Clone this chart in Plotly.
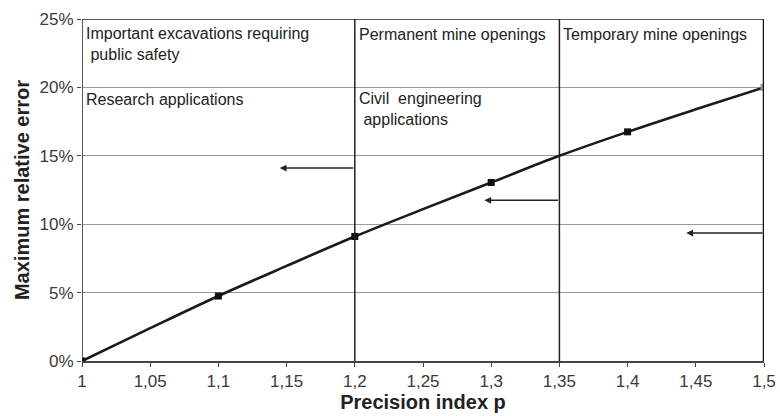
import plotly.graph_objects as go

# Curve data (precision index p vs max relative error %)
p_curve = [1.0, 1.05, 1.1, 1.15, 1.2, 1.25, 1.3, 1.35, 1.4, 1.45, 1.5]
err_curve = [0.0, 2.4, 4.75, 6.95, 9.1, 11.1, 13.05, 15.0, 16.75, 18.4, 20.0]

p_marks = [1.0, 1.1, 1.2, 1.3, 1.4]
err_marks = [0.0, 4.75, 9.1, 13.05, 16.75]
p_end = [1.5]
err_end = [20.0]

x_ticks = [1, 1.05, 1.1, 1.15, 1.2, 1.25, 1.3, 1.35, 1.4, 1.45, 1.5]
x_ticktext = ["1", "1,05", "1,1", "1,15", "1,2", "1,25", "1,3", "1,35", "1,4", "1,45", "1,5"]
y_ticks = [0, 5, 10, 15, 20, 25]
y_ticktext = ["0%", "5%", "10%", "15%", "20%", "25%"]

boundaries = [1.2, 1.35]

# arrows: (from x, to x, y)
arrow_from = [1.2, 1.35, 1.5]
arrow_to = [1.145, 1.295, 1.443]
arrow_y = [14.1, 11.75, 9.35]

labels = [
    ("Important excavations requiring<br>&nbsp;public safety", 1.0, 23.2),
    ("Research applications", 1.0, 19.1),
    ("Permanent mine openings", 1.2, 23.85),
    ("Civil&nbsp;&nbsp;engineering<br>&nbsp;applications", 1.2, 18.45),
    ("Temporary mine openings", 1.35, 23.85),
]

font_family = "Liberation Sans, Arial, sans-serif"

fig = go.Figure()
fig.add_trace(go.Scatter(x=p_curve, y=err_curve, mode="lines",
                         line=dict(color="#1a1a1a", width=2.6, shape="spline"),
                         hoverinfo="skip", showlegend=False))
fig.add_trace(go.Scatter(x=p_marks, y=err_marks, mode="markers",
                         marker=dict(symbol="square", size=7, color="#111"),
                         showlegend=False))
fig.add_trace(go.Scatter(x=p_end, y=err_end, mode="markers",
                         marker=dict(symbol="square", size=7, color="#999"),
                         showlegend=False))

shapes = []
for b in boundaries:
    shapes.append(dict(type="line", xref="x", yref="y", x0=b, x1=b, y0=0, y1=25,
                       line=dict(color="#222", width=1.5)))
# border box
shapes.append(dict(type="line", xref="x", yref="y", x0=1.5, x1=1.5, y0=0, y1=25,
                   line=dict(color="#111", width=2.5)))
shapes.append(dict(type="line", xref="x", yref="y", x0=1.0, x1=1.5, y0=25, y1=25,
                   line=dict(color="#222", width=1.5)))
shapes.append(dict(type="line", xref="x", yref="y", x0=1.0, x1=1.0, y0=0, y1=25,
                   line=dict(color="#222", width=1.5)))

annotations = []
for xf, xt, y in zip(arrow_from, arrow_to, arrow_y):
    annotations.append(dict(x=xt, y=y, ax=xf, ay=y, xref="x", yref="y",
                            axref="x", ayref="y", text="", showarrow=True,
                            arrowhead=2, arrowsize=0.9, arrowwidth=1.5,
                            arrowcolor="#222"))
for txt, x, y in labels:
    annotations.append(dict(x=x, y=y, xref="x", yref="y", text=txt,
                            showarrow=False, xanchor="left", yanchor="middle",
                            xshift=2, align="left",
                            font=dict(family=font_family, size=16, color="#222")))

fig.update_layout(
    width=780, height=416,
    margin=dict(l=82, r=16, t=19, b=55),
    paper_bgcolor="white", plot_bgcolor="white",
    shapes=shapes, annotations=annotations,
    font=dict(family=font_family, color="#333"),
)
fig.update_xaxes(range=[1.0, 1.5], tickmode="array", tickvals=x_ticks, ticktext=x_ticktext,
                 showgrid=False, zeroline=False, automargin=False,
                 showline=True, linecolor="#444", linewidth=1.5,
                 ticks="outside", ticklen=4, tickcolor="#444",
                 tickfont=dict(family=font_family, size=17, color="#3a3a3a"),
                 title=dict(text="<b>Precision index p</b>", standoff=2,
                            font=dict(family=font_family, size=20, color="#222")))
fig.update_yaxes(range=[0, 25], tickmode="array", tickvals=y_ticks, ticktext=y_ticktext,
                 showgrid=True, gridcolor="#999", gridwidth=1, zeroline=False,
                 automargin=False,
                 showline=False, ticks="outside", ticklen=4, tickcolor="#444",
                 tickfont=dict(family=font_family, size=17, color="#3a3a3a"),
                 title=dict(text="<b>Maximum relative error</b>", standoff=4,
                            font=dict(family=font_family, size=20, color="#222")))

fig.write_html("out.html")
